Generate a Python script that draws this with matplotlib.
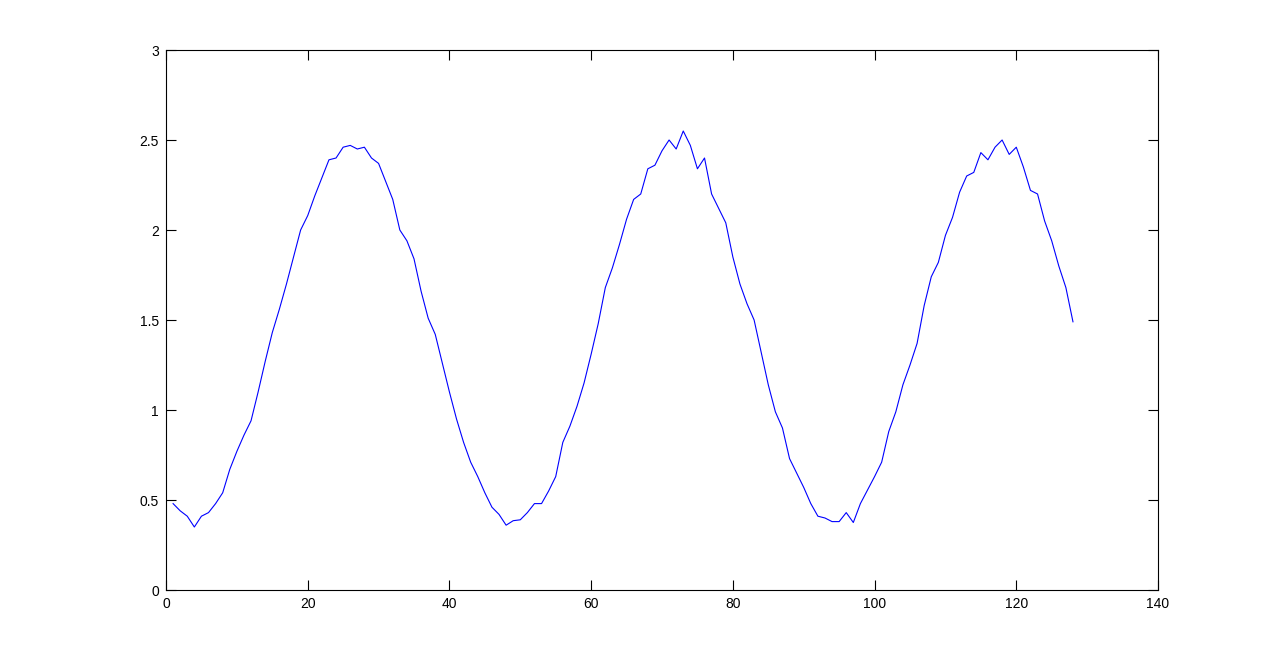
import matplotlib
matplotlib.use("Agg")
import matplotlib.pyplot as plt
import numpy as np

x_values = list(range(1, 129))
y_values = [
    0.48, 0.44, 0.41, 0.35, 0.41, 0.43, 0.48, 0.54, 0.67, 0.77,
    0.86, 0.94, 1.10, 1.27, 1.43, 1.56, 1.70, 1.85, 2.00, 2.08,
    2.19, 2.29, 2.39, 2.40, 2.46, 2.47, 2.45, 2.46, 2.40, 2.37,
    2.27, 2.17, 2.00, 1.94, 1.84, 1.66, 1.51, 1.42, 1.26, 1.10,
    0.95, 0.82, 0.71, 0.63, 0.54, 0.46, 0.42, 0.36, 0.385, 0.39,
    0.43, 0.48, 0.48, 0.55, 0.63, 0.82, 0.91, 1.02, 1.15, 1.31,
    1.48, 1.68, 1.79, 1.92, 2.06, 2.17, 2.20, 2.34, 2.36, 2.44,
    2.50, 2.45, 2.55, 2.47, 2.34, 2.40, 2.20, 2.12, 2.04, 1.85,
    1.70, 1.59, 1.50, 1.32, 1.14, 0.99, 0.90, 0.73, 0.65, 0.57,
    0.48, 0.41, 0.40, 0.38, 0.38, 0.43, 0.375, 0.48, 0.555, 0.63,
    0.71, 0.88, 0.99, 1.14, 1.25, 1.37, 1.58, 1.74, 1.82, 1.97,
    2.07, 2.21, 2.30, 2.32, 2.43, 2.39, 2.46, 2.50, 2.42, 2.46,
    2.35, 2.22, 2.20, 2.05, 1.94, 1.80, 1.68, 1.49,
]
x_ticks = [0, 20, 40, 60, 80, 100, 120, 140]
y_ticks = [0, 0.5, 1, 1.5, 2, 2.5, 3]
y_tick_labels = ["0", "0.5", "1", "1.5", "2", "2.5", "3"]

plt.rcParams['font.family'] = ['Liberation Sans', 'DejaVu Sans']

fig = plt.figure(figsize=(12.8, 6.64), dpi=100)
ax = fig.add_axes([166/1280, 1 - 590/664, (1158-166)/1280, (590-50)/664])
ax.plot(x_values, y_values, color=(0, 0, 1), linewidth=0.8)
ax.set_xlim(0, 140)
ax.set_ylim(0, 3)
ax.set_xticks(x_ticks)
ax.set_xticklabels([str(t) for t in x_ticks])
ax.set_yticks(y_ticks)
ax.set_yticklabels(y_tick_labels)
ax.tick_params(direction='in', length=7, width=0.8, top=True, right=True,
               labelsize=10, colors='black', pad=5)
for s in ax.spines.values():
    s.set_linewidth(0.8)
    s.set_color('black')
fig.savefig("out.png", dpi=100, facecolor='white')
